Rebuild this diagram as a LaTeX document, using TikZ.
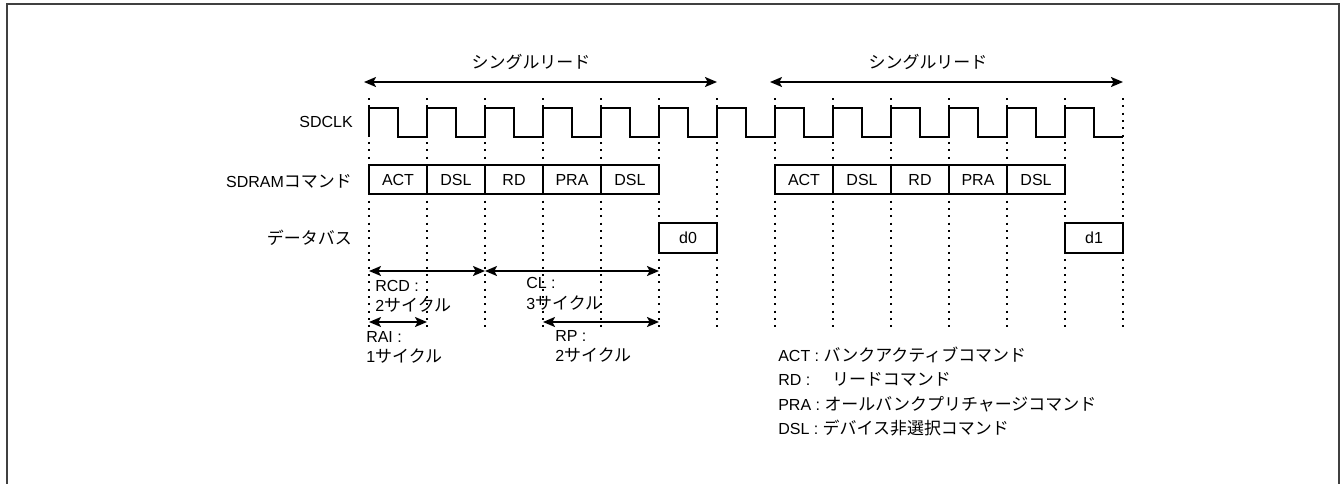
\documentclass[tikz,border=0pt]{standalone}
\usepackage{fontspec}
\setmainfont{Liberation Sans}
\newfontfamily\jpfont[Scale=1.06]{Noto Sans CJK JP}
\newcommand{\J}[1]{{\jpfont #1}}
\usetikzlibrary{arrows.meta}
\begin{document}
\begin{tikzpicture}[x=0.75pt,y=-0.75pt,
  every node/.style={font=\fontsize{12pt}{15.4pt}\selectfont, inner sep=0pt},
  sig/.style={line width=1.35pt, black},
  cell/.style={draw, line width=1.35pt, minimum width=43.5pt, minimum height=21.75pt},
  gridline/.style={line width=1.5pt, dash pattern=on 1.5pt off 4pt},
  dbl/.style={line width=1.35pt, {Stealth[length=9pt,width=7.5pt,inset=2pt]}-{Stealth[length=9pt,width=7.5pt,inset=2pt]}},
  legend/.style={anchor=west, align=left, font=\fontsize{12pt}{18.2pt}\selectfont}
]
\useasboundingbox (0,0) rectangle (1341,483);
\clip (0,0) rectangle (1341,483);
\draw[line width=1.5pt, draw=black!75] (7,4) rectangle (1339,500);

% dotted grid
\foreach \k in {0,...,13} \draw[gridline] ({369+58*\k},98) -- ({369+58*\k},328);

% clock
\draw[sig] (369,137) \foreach \k in {0,...,12} { -- ({369+58*\k},108) -- ({398+58*\k},108) -- ({398+58*\k},137) -- ({427+58*\k},137) };

% row labels
\node[anchor=east] (lclk) at (353,122) {SDCLK};
\node[anchor=east] (lcmd) at (352,181.5) {SDRAM\J{コマンド}};
\node[anchor=east] (ldata) at (352,238) {\J{データバス}};

% single read
\node (sr1) at (531,62) {\J{シングルリード}};
\node (sr2) at (928,62) {\J{シングルリード}};
\coordinate (sra) at (364,82); \coordinate (srb) at (717,82);
\coordinate (src) at (770,82); \coordinate (srd) at (1123,82);
\draw[dbl] (sra) -- (srb);
\draw[dbl] (src) -- (srd);

% commands
\foreach \t [count=\i from 0] in {ACT,DSL,RD,PRA,DSL} {
  \node[cell] (ca\i) at ({398+58*\i},179.5) {\t};
  \node[cell] (cb\i) at ({804+58*\i},179.5) {\t};
}
\node[cell, minimum height=22.5pt] (d0) at (688,238) {d0};
\node[cell, minimum height=22.5pt] (d1) at (1094,238) {d1};

% timing arrows
\coordinate (t0) at (369,271); \coordinate (t2) at (485,271); \coordinate (t5) at (659,271);
\coordinate (u0) at (369,322); \coordinate (u1) at (427,322);
\coordinate (u3) at (543,322); \coordinate (u5) at (659,322);
\draw[dbl] (t0) -- (t2);
\draw[dbl] (t2) -- (t5);
\draw[dbl] (u0) -- (u1);
\draw[dbl] (u3) -- (u5);

\node[anchor=west, align=left] (rcd) at (375,296.5) {RCD :\\2\J{サイクル}};
\node[anchor=west, align=left] (cl) at (526,294) {CL :\\3\J{サイクル}};
\node[anchor=west, align=left] (rai) at (366,347.5) {RAI :\\1\J{サイクル}};
\node[anchor=west, align=left] (rp) at (555,346.5) {RP :\\2\J{サイクル}};

% legend
\node[legend] (lg) at (778,391.5) {ACT : \J{バンクアクティブコマンド}\\RD : \hspace{13pt}\J{リードコマンド}\\PRA : \J{オールバンクプリチャージコマンド}\\DSL : \J{デバイス非選択コマンド}};
\end{tikzpicture}
\end{document}
